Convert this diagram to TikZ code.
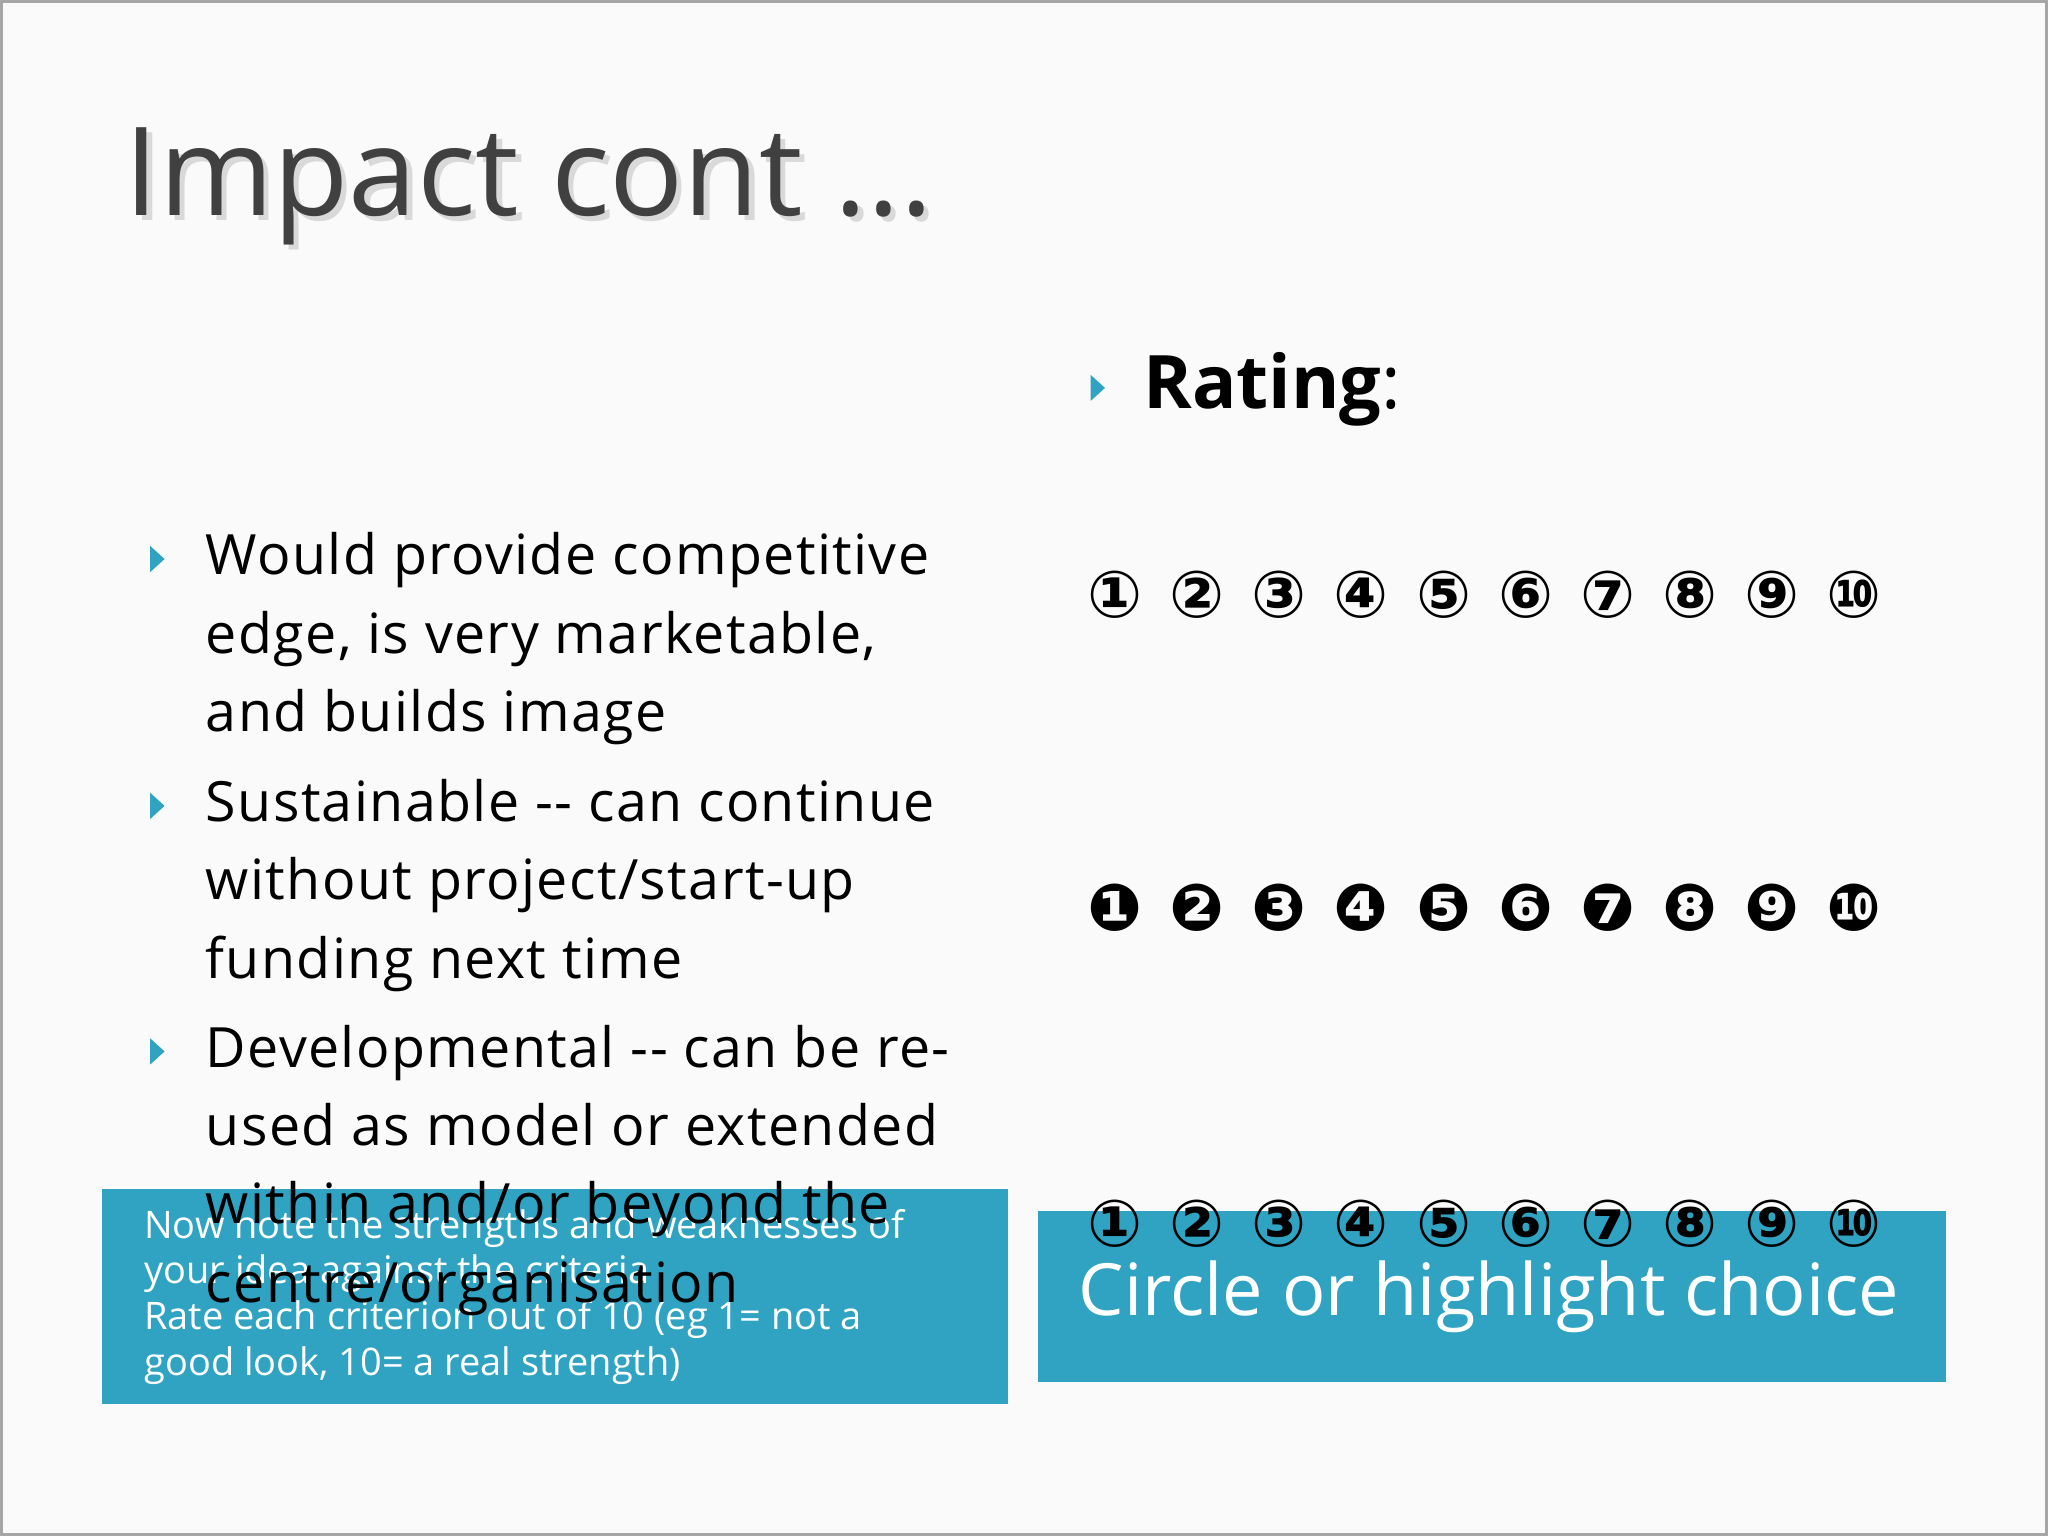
\documentclass[tikz,border=0pt]{standalone}
\usepackage{fontspec}
\setmainfont{Open Sans}
\newfontfamily\symf{DejaVu Sans}
\newfontfamily\bodyf[LetterSpace=2.5]{Open Sans}
\definecolor{teal1}{HTML}{2FA3C1}
\definecolor{bg}{HTML}{FAFAFA}
\tikzset{
  tri/.style={fill=teal1},
  body/.style={anchor=base west,inner sep=0pt,font=\bodyf\fontsize{15.8}{22}\selectfont},
  small/.style={anchor=base west,inner sep=0pt,text=white,font=\fontsize{10.8}{13}\selectfont},
  num/.style={inner sep=0pt,font=\symf\bfseries\fontsize{18.5}{18.5}\selectfont},
  boxc/.style={fill=teal1,draw=none}
}
\newcommand{\bul}[2]{\fill[tri] (#1-5,#2-10) -- (#1+6,#2) -- (#1-5,#2+10) -- cycle;}
\begin{document}
\begin{tikzpicture}[x=0.01306cm,y=-0.01306cm]
\fill[bg] (0,0) rectangle (1568,1176);
\useasboundingbox (0,0) rectangle (1568,1176);
\draw[gray!70,line width=1.5pt] (0,0) rectangle (1568,1176);
% title
\node[anchor=base west,inner sep=0pt,text=black!15,font=\fontsize{35}{35}\selectfont] (tsh) at (99,169) {Impact cont ...};
\node[anchor=base west,inner sep=0pt,text=black!75,font=\fontsize{35}{35}\selectfont] (title) at (95,165) {Impact cont ...};
% boxes
\fill[boxc] (78,910) rectangle (772,1075);
\fill[boxc] (795,927) rectangle (1490,1058);
\foreach \t [count=\i from 0] in {Now note the strengths and weaknesses of,your idea against the criteria,Rate each criterion out of 10 (eg 1= not a,{good look, 10= a real strength)}}
  \node[small] (n\i) at (110,948+35*\i) {\t};
\node[text=white,inner sep=0pt,font=\fontsize{20.5}{21}\selectfont] (circ) at (1140,993) {Circle or highlight choice};
% bullets
\bul{120}{428}
\foreach \t [count=\i from 0] in {Would provide competitive,{edge, is very marketable,},and builds image}
  \node[body] (p\i) at (157,440+60*\i) {\t};
\bul{120}{617}
\foreach \t [count=\i from 0] in {Sustainable -- can continue,without project/start-up,funding next time}
  \node[body] (q\i) at (157,629+60*\i) {\t};
\bul{120}{805}
\foreach \t [count=\i from 0] in {Developmental -- can be re-,used as model or extended,within and/or beyond the,centre/organisation}
  \node[body] (r\i) at (157,817+60*\i) {\t};
% rating
\bul{840}{297}
\node[anchor=base west,inner sep=0pt,font=\fontsize{21}{21}\selectfont] (rat) at (875,313) {\textbf{Rating}:};
% numbers
\foreach \s [count=\i from 0] in {①,②,③,④,⑤,⑥,⑦,⑧,⑨,⑩}{
  \node[num] (a\i) at (854+62.8*\i,455) {\s};
  \node[num] (c\i) at (854+62.8*\i,937) {\s};
}
\foreach \s [count=\i from 0] in {❶,❷,❸,❹,❺,❻,❼,❽,❾,❿}{
  \node[num] (m\i) at (854+62.8*\i,695) {\s};
}
\end{tikzpicture}
\end{document}
